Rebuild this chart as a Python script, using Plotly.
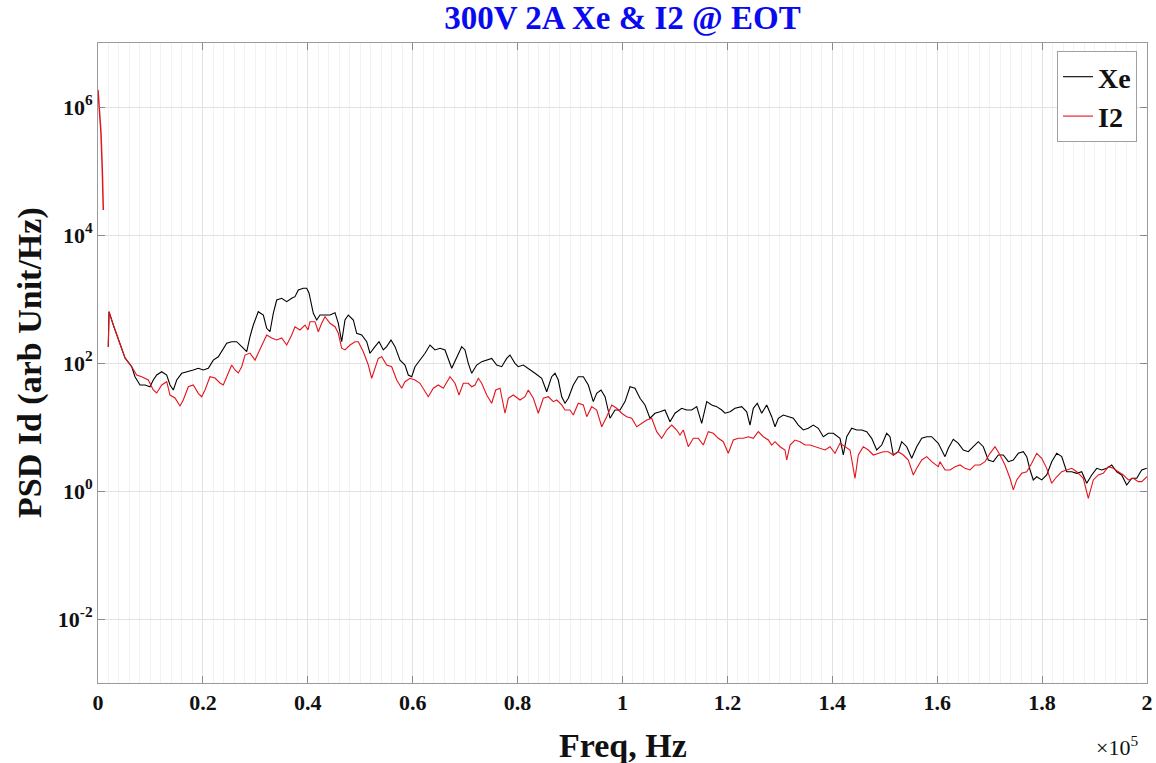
import plotly.graph_objects as go

# ---------------- data ----------------
# Xe (black)
freq_xe = [
    1960, 2100, 2920, 3870, 5150, 6430, 7050, 8010, 8960, 9910,
    10540, 11190, 12150, 13100, 13730, 14360, 15010, 15960, 17220, 18170,
    19120, 20080, 21030, 21980, 22940, 23590, 24540, 25490, 26440, 27400,
    28350, 28980, 29610, 30560, 31520, 32160, 32790, 33420, 34070, 35020,
    35980, 36930, 37560, 38190, 39140, 39790, 40230, 41050, 41700, 42330,
    43280, 44230, 45190, 45820, 46460, 47090, 47720, 48680, 49320, 50280,
    51230, 51860, 52810, 53580, 54400, 55040, 55860, 56630, 57580, 58530,
    59160, 59810, 60440, 61390, 62350, 63300, 64250, 65210, 66160, 67440,
    68390, 69340, 69970, 70600, 71250, 72200, 73160, 74110, 75060, 76020,
    76970, 77920, 78550, 79500, 80130, 81090, 82040, 83320, 84600, 85550,
    86500, 87130, 87760, 88410, 89040, 89670, 90620, 91570, 92530, 93480,
    94430, 95080, 95900, 96670, 97620, 98570, 99530, 100480, 101430, 102380,
    103340, 104290, 105240, 106200, 107150, 108100, 109060, 110010, 111290, 112240,
    113200, 114150, 115100, 116060, 117010, 117960, 118920, 119540, 120500, 121450,
    122730, 123680, 124310, 124940, 125700, 126540, 127490, 128450, 129080, 129710,
    130660, 131610, 132570, 133520, 134470, 135430, 136380, 137330, 138290, 139240,
    140190, 141470, 142100, 142750, 143700, 144650, 145610, 146560, 147510, 148470,
    149420, 150370, 151000, 151630, 152590, 153230, 154190, 155140, 156090, 157050,
    158000, 158950, 160210, 161490, 162120, 163070, 164030, 164980, 165930, 166880,
    167840, 168790, 169740, 170700, 171650, 172600, 173560, 174510, 175460, 176420,
    177070, 177700, 178320, 178970, 179930, 180880, 181830, 182790, 183740, 184690,
    185650, 186600, 187550, 188510, 189460, 190410, 191370, 192320, 193270, 194230,
    195180, 196130, 197090, 198040, 198990, 199940,
]
psd_xe = [
    180, 634, 392, 229, 120, 87.5, 61.1, 45.3, 45.3, 42.6,
    54.2, 64.9, 73.1, 64.9, 45.3, 37.9, 54.2, 69.0, 73.1, 77.8,
    82.6, 77.8, 82.6, 111, 125, 150, 203, 215, 215, 180,
    150, 258, 392, 634, 562, 348, 308, 598, 964, 1025,
    908, 1025, 1086, 1383, 1469, 1469, 1241, 598, 470, 562,
    562, 562, 611, 417, 215, 470, 562, 470, 291, 274,
    215, 142, 180, 215, 160, 180, 229, 180, 111, 93.0,
    64.9, 61.1, 87.5, 111, 142, 191, 160, 170, 160, 82.6,
    125, 180, 160, 98.9, 69.0, 93.0, 105, 111, 118, 93.0,
    87.5, 118, 133, 98.9, 87.5, 93.0, 82.6, 69.0, 57.7, 35.6,
    61.1, 69.0, 54.2, 29.7, 23.5, 28.1, 45.3, 61.1, 61.1, 45.3,
    24.9, 33.6, 37.9, 29.7, 13.7, 18.4, 18.4, 24.9, 42.6, 40.3,
    28.1, 22.1, 13.7, 16.4, 17.3, 18.4, 12.1, 16.4, 19.6, 18.4,
    18.4, 20.8, 11.4, 24.9, 22.1, 20.8, 18.4, 16.4, 17.3, 19.6,
    20.8, 17.3, 10.7, 19.6, 23.5, 16.4, 22.1, 14.5, 10.1, 13.7,
    15.4, 14.5, 13.7, 10.7, 8.98, 9.55, 10.7, 9.55, 7.05, 7.97,
    7.97, 6.66, 3.65, 7.05, 9.55, 8.98, 8.98, 8.45, 6.66, 4.37,
    5.23, 7.97, 7.05, 3.65, 4.11, 5.89, 4.92, 3.24, 4.92, 6.66,
    7.05, 7.05, 5.56, 3.44, 4.65, 6.42, 5.56, 4.37, 4.11, 4.92,
    5.89, 4.92, 3.05, 2.87, 3.65, 3.65, 2.87, 3.05, 3.88, 4.11,
    3.44, 2.13, 1.49, 1.67, 1.49, 1.78, 2.87, 3.88, 3.44, 2.00,
    2.00, 1.89, 2.00, 1.32, 1.78, 2.26, 2.13, 2.26, 2.55, 2.00,
    1.78, 1.24, 1.58, 1.58, 2.13, 2.26,
]

# I2 (red): low-frequency spike segment
freq_i2_dc = [0, 190, 570, 820, 1010]
psd_i2_dc = [1.85e6, 1.07e6, 3.93e5, 1.04e5, 2.46e4]

# I2 (red): main spectrum
freq_i2 = [
    1960, 2100, 2920, 3870, 5150, 6430, 7380, 8330, 9590, 10540,
    11190, 12150, 13100, 13730, 14680, 15630, 16260, 17220, 18170, 19120,
    19770, 20400, 21350, 22310, 23260, 23890, 24840, 25490, 26120, 26750,
    27400, 28030, 28980, 29930, 30560, 31210, 32160, 33120, 34070, 35020,
    35980, 36930, 37560, 38510, 39470, 40040, 40420, 41370, 42000, 42650,
    43280, 44230, 45190, 45820, 46460, 47090, 48050, 49000, 49630, 50580,
    51540, 52180, 52810, 53440, 54090, 55040, 56000, 56950, 57900, 58530,
    59490, 60440, 61390, 62020, 62970, 63930, 64880, 65830, 66480, 67110,
    68070, 68830, 69650, 70600, 71250, 71880, 72510, 73160, 74110, 75060,
    75830, 76650, 77600, 78230, 79180, 80130, 80460, 81410, 82040, 83000,
    83950, 84900, 85860, 86810, 87460, 88410, 89040, 89990, 90620, 91570,
    92530, 93180, 94130, 95080, 96040, 96990, 97940, 98900, 99850, 100800,
    101760, 102710, 103660, 104620, 105570, 106520, 107480, 108430, 109380, 110340,
    110960, 111590, 112550, 113500, 114450, 115410, 116360, 117310, 118270, 119220,
    120170, 121130, 122080, 123030, 123990, 124940, 125890, 126850, 127800, 128450,
    129080, 130030, 130980, 131310, 131940, 132890, 133840, 134800, 135750, 136700,
    137660, 138610, 139560, 140520, 141470, 142420, 143380, 144330, 144960, 145910,
    146870, 147820, 148770, 149730, 150680, 151630, 152590, 153540, 154490, 155450,
    156090, 157050, 158000, 158950, 160210, 160540, 161490, 162440, 163400, 164350,
    165300, 166260, 167210, 168160, 169120, 170070, 171020, 171980, 172930, 173880,
    174510, 175160, 176110, 177070, 178020, 178970, 179930, 180880, 181830, 182790,
    183740, 184690, 185650, 186600, 187860, 188810, 189760, 190720, 191670, 192620,
    193580, 194530, 195480, 196440, 197390, 198340, 198990, 200000,
]
psd_i2 = [
    180, 634, 392, 229, 120, 87.5, 64.9, 61.1, 54.2, 37.9,
    34.0, 45.3, 51.0, 31.6, 28.4, 21.3, 26.4, 42.6, 45.3, 33.6,
    29.7, 37.9, 61.1, 58.3, 48.7, 45.3, 69.8, 93.0, 77.8, 69.8,
    87.5, 133, 143, 111, 143, 191, 274, 246, 229, 246,
    191, 274, 369, 328, 392, 328, 442, 442, 308, 417,
    529, 417, 369, 291, 170, 160, 191, 215, 215, 150,
    93.0, 57.7, 82.6, 118, 125, 93.0, 87.5, 54.2, 40.3, 51.0,
    57.7, 54.2, 48.2, 40.3, 29.7, 40.3, 45.3, 40.3, 51.0, 61.1,
    48.2, 31.6, 48.2, 48.2, 42.6, 45.3, 57.7, 48.2, 31.6, 23.5,
    37.9, 40.3, 16.4, 28.1, 31.6, 28.1, 26.4, 29.7, 37.9, 28.1,
    16.4, 28.1, 29.7, 24.9, 26.4, 22.1, 18.4, 18.4, 15.4, 23.5,
    22.1, 14.5, 20.8, 18.4, 10.1, 14.5, 22.1, 19.6, 16.4, 14.5,
    13.7, 10.1, 11.4, 12.9, 13.7, 8.45, 6.66, 8.98, 10.7, 8.98,
    7.50, 8.98, 4.92, 6.66, 6.66, 5.23, 8.45, 7.97, 6.66, 5.89,
    3.88, 6.26, 6.66, 6.66, 7.05, 6.66, 8.45, 7.05, 6.26, 5.23,
    5.89, 4.92, 4.37, 3.05, 5.23, 6.26, 5.89, 5.23, 5.23, 4.92,
    4.65, 4.37, 4.92, 3.88, 5.56, 4.92, 4.37, 1.58, 3.65, 4.92,
    4.37, 3.65, 3.88, 4.11, 4.11, 3.65, 4.11, 3.65, 3.05, 1.78,
    2.26, 3.05, 3.44, 2.87, 2.40, 2.87, 2.13, 2.13, 2.40, 2.55,
    2.26, 2.13, 2.55, 2.55, 2.87, 3.88, 4.92, 3.65, 2.55, 1.58,
    1.04, 1.49, 1.89, 2.00, 2.71, 3.88, 3.24, 2.26, 1.32, 1.67,
    2.00, 2.13, 2.26, 2.00, 1.58, 0.769, 1.49, 1.78, 1.89, 2.40,
    2.26, 2.00, 1.78, 1.49, 1.58, 1.40, 1.40, 1.67,
]

x_tickvals = [0, 20000, 40000, 60000, 80000, 100000, 120000, 140000, 160000, 180000, 200000]
x_ticktext = ["0", "0.2", "0.4", "0.6", "0.8", "1", "1.2", "1.4", "1.6", "1.8", "2"]
y_tickvals = [1e-2, 1e0, 1e2, 1e4, 1e6]
y_ticktext = ["10<sup>-2</sup>", "10<sup>0</sup>", "10<sup>2</sup>", "10<sup>4</sup>", "10<sup>6</sup>"]

# ---------------- figure ----------------
FONT = "Liberation Serif, Times New Roman, serif"
BLACK = "#000000"
RED = "#e3141b"
W, H = 1156, 763
L, R, T, B = 98, 9, 43, 80
PW, PH = W - L - R, H - T - B

fig = go.Figure()
fig.add_trace(go.Scatter(x=freq_xe, y=psd_xe, mode="lines", name="Xe",
                         line=dict(color=BLACK, width=1.1)))
fig.add_trace(go.Scatter(x=freq_i2, y=psd_i2, mode="lines", name="I2",
                         legendgroup="i2", line=dict(color=RED, width=1.1)))
fig.add_trace(go.Scatter(x=freq_i2_dc, y=psd_i2_dc, mode="lines", name="I2",
                         legendgroup="i2", showlegend=False,
                         line=dict(color=RED, width=1.5)))

axis_common = dict(
    showline=True, linecolor="#9a9a9a", linewidth=1, mirror="ticks",
    ticks="inside", ticklen=7, tickcolor="#8a8a8a", tickwidth=1,
    showgrid=True, gridcolor="#e2e2e2", gridwidth=1, zeroline=False,
    automargin=False,
    tickfont=dict(family=FONT, size=22, color="#111111", weight="bold"),
)

fig.update_layout(
    width=W, height=H, autosize=False,
    margin=dict(l=L, r=R, t=T, b=B, pad=0, autoexpand=False),
    paper_bgcolor="white", plot_bgcolor="white",
    font=dict(family=FONT, color="#111111"),
    title=dict(text="300V 2A Xe & I2 @ EOT", x=(L + PW / 2) / W, xanchor="center",
               y=1 - 17 / H, yanchor="middle", yref="container",
               font=dict(family=FONT, size=33, color="#0a0af0", weight="bold")),
    xaxis=dict(range=[0, 200000], tickmode="array", tickvals=x_tickvals,
               ticktext=x_ticktext,
               minor=dict(tickmode="linear", tick0=0, dtick=2000, showgrid=True,
                          gridcolor="#f2f2f2", gridwidth=1, ticks=""),
               **axis_common),
    yaxis=dict(type="log", range=[-3, 7], tickmode="array", tickvals=y_tickvals,
               ticktext=y_ticktext, **axis_common),
    legend=dict(x=(1137 - L) / PW, xanchor="right", y=1 - (51 - T) / PH,
                yanchor="top", bgcolor="white", bordercolor="#a0a0a0", borderwidth=1,
                font=dict(family=FONT, size=28, color="#111111", weight="bold"),
                itemwidth=30, tracegroupgap=0),
    showlegend=True,
)

fig.add_annotation(text="<b>Freq, Hz</b>", xref="paper", yref="paper",
                   x=0.5, y=-(745 - 683) / PH, xanchor="center", yanchor="middle",
                   showarrow=False, font=dict(family=FONT, size=34, color="#111111"))
fig.add_annotation(text="<b>PSD Id (arb Unit/Hz)</b>", xref="paper", yref="paper",
                   x=-(L - 30) / PW, y=0.5, xanchor="center", yanchor="middle",
                   textangle=-90, showarrow=False,
                   font=dict(family=FONT, size=34, color="#111111"))
fig.add_annotation(text="×10<sup>5</sup>", xref="paper", yref="paper",
                   x=(1117 - L) / PW, y=-(746 - 683) / PH, xanchor="center",
                   yanchor="middle", showarrow=False,
                   font=dict(family=FONT, size=22, color="#111111"))

fig.write_html(
    "out.html",
    config={"displayModeBar": False},
    post_script="document.body.style.margin='0px';document.body.style.overflow='hidden';",
)
